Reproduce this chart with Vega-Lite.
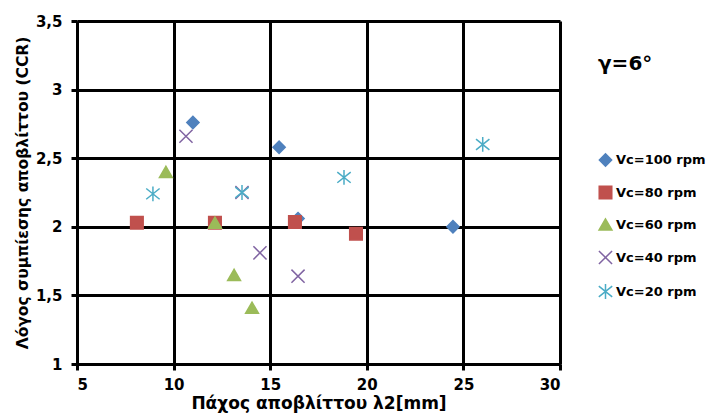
{
  "$schema": "https://vega.github.io/schema/vega-lite/v6.json",
  "width": 483,
  "height": 343,
  "autosize": {"type": "none"},
  "padding": {"left": 77, "top": 21, "right": 146, "bottom": 54},
  "background": "white",
  "config": {
    "font": "DejaVu Sans",
    "view": {"stroke": null},
    "axis": {
      "domainColor": "black", "domainWidth": 3,
      "gridColor": "black", "gridWidth": 3, "gridOpacity": 1,
      "tickColor": "black", "tickWidth": 3, "tickSize": 6,
      "labelFont": "DejaVu Sans", "labelColor": "black",
      "titleFont": "DejaVu Sans", "titleFontWeight": "bold", "titleColor": "black"
    }
  },
  "data": {
    "values": [
      {"s": "Vc=100 rpm", "x": 11.0, "y": 2.76},
      {"s": "Vc=100 rpm", "x": 15.46, "y": 2.58},
      {"s": "Vc=100 rpm", "x": 16.44, "y": 2.06},
      {"s": "Vc=100 rpm", "x": 24.46, "y": 2.0},
      {"s": "Vc=80 rpm", "x": 8.1, "y": 2.03},
      {"s": "Vc=80 rpm", "x": 12.14, "y": 2.03},
      {"s": "Vc=80 rpm", "x": 16.28, "y": 2.035},
      {"s": "Vc=80 rpm", "x": 19.44, "y": 1.95},
      {"s": "Vc=60 rpm", "x": 9.6, "y": 2.4},
      {"s": "Vc=60 rpm", "x": 12.14, "y": 2.03},
      {"s": "Vc=60 rpm", "x": 13.13, "y": 1.65},
      {"s": "Vc=60 rpm", "x": 14.06, "y": 1.41},
      {"s": "Vc=40 rpm", "x": 10.64, "y": 2.66},
      {"s": "Vc=40 rpm", "x": 13.54, "y": 2.25},
      {"s": "Vc=40 rpm", "x": 14.47, "y": 1.81},
      {"s": "Vc=40 rpm", "x": 16.44, "y": 1.64},
      {"s": "Vc=20 rpm", "x": 8.93, "y": 2.24},
      {"s": "Vc=20 rpm", "x": 13.54, "y": 2.25},
      {"s": "Vc=20 rpm", "x": 18.82, "y": 2.36},
      {"s": "Vc=20 rpm", "x": 26.0, "y": 2.6}
    ]
  },
  "mark": {"type": "point", "opacity": 1, "strokeWidth": 1.5},
  "encoding": {
    "x": {
      "field": "x", "type": "quantitative",
      "scale": {"domain": [5, 30], "nice": false, "zero": false},
      "axis": {"values": [5, 10, 15, 20, 25, 30], "title": "Πάχος αποβλίττου λ2[mm]", "titleFontSize": 17, "labelPadding": 7, "titlePadding": 3, "labelFontWeight": 700, "labelFontSize": 15}
    },
    "y": {
      "field": "y", "type": "quantitative",
      "scale": {"domain": [1, 3.5], "nice": false, "zero": false},
      "axis": {"values": [1, 1.5, 2, 2.5, 3, 3.5], "labelExpr": "replace(toString(datum.value), '.', ',')", "title": "Λόγος συμπίεσης αποβλίττου (CCR)", "titleFontSize": 15.5, "labelPadding": 9, "titlePadding": 5, "labelFontWeight": 700, "labelFontSize": 15}
    },
    "shape": {
      "field": "s", "type": "nominal",
      "sort": ["Vc=100 rpm", "Vc=80 rpm", "Vc=60 rpm", "Vc=40 rpm", "Vc=20 rpm"],
      "scale": {"domain": ["Vc=100 rpm", "Vc=80 rpm", "Vc=60 rpm", "Vc=40 rpm", "Vc=20 rpm"], "range": ["diamond", "square", "triangle-up", "M-1,-1L1,1M-1,1L1,-1", "M-1,-0.8L1,0.8M-1,0.8L1,-0.8M0,-1.1L0,1.1"]},
      "legend": {
        "title": "γ=6°", "orient": "none", "legendX": 521, "legendY": 33,
        "titleFontSize": 20, "titleFontWeight": "bold", "titleColor": "black", "titleFont": "DejaVu Sans",
        "titlePadding": 79,
        "labelFontSize": 13, "labelFontWeight": "bold", "labelColor": "black", "labelFont": "DejaVu Sans",
        "rowPadding": 13, "labelOffset": 3, "offset": 0
      }
    },
    "fill": {
      "field": "s", "type": "nominal",
      "scale": {"domain": ["Vc=100 rpm", "Vc=80 rpm", "Vc=60 rpm", "Vc=40 rpm", "Vc=20 rpm"], "range": ["#4F81BD", "#C0504D", "#9BBB59", "transparent", "transparent"]},
      "legend": {"title": "γ=6°"}
    },
    "stroke": {
      "field": "s", "type": "nominal",
      "scale": {"domain": ["Vc=100 rpm", "Vc=80 rpm", "Vc=60 rpm", "Vc=40 rpm", "Vc=20 rpm"], "range": ["#4F81BD", "#C0504D", "#9BBB59", "#8064A2", "#4BACC6"]},
      "legend": {"title": "γ=6°"}
    },
    "size": {
      "field": "s", "type": "nominal",
      "scale": {"domain": ["Vc=100 rpm", "Vc=80 rpm", "Vc=60 rpm", "Vc=40 rpm", "Vc=20 rpm"], "range": [150, 180, 200, 90, 110]},
      "legend": {"title": "γ=6°"}
    }
  }
}
